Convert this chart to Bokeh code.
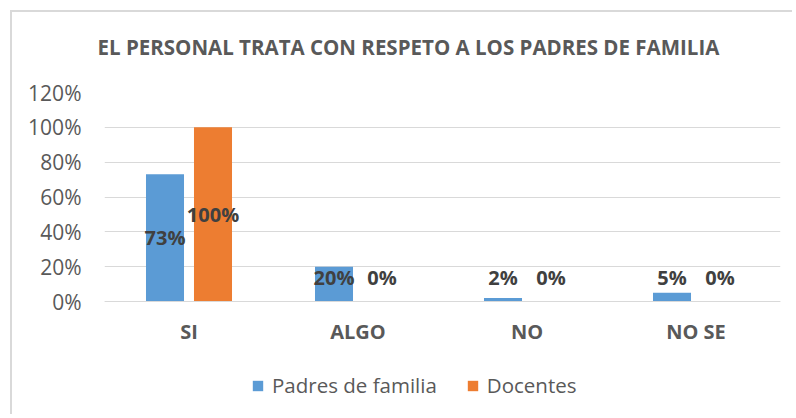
from bokeh.plotting import figure
from bokeh.models import (ColumnDataSource, FactorRange, Range1d, LabelSet, Legend,
                          LegendItem, NumeralTickFormatter, FixedTicker, Title)
from bokeh.core.properties import value
from bokeh.transform import dodge
from bokeh.embed import file_html
from bokeh.resources import INLINE

categories = ["SI", "ALGO", "NO", "NO SE"]
padres = [0.73, 0.20, 0.02, 0.05]
docentes = [1.00, 0.00, 0.00, 0.00]
padres_lbl = ["73%", "20%", "2%", "5%"]
docentes_lbl = ["100%", "0%", "0%", "0%"]
y_ticks = [0, 0.2, 0.4, 0.6, 0.8, 1.0, 1.2]

BLUE = "#5b9bd5"
ORANGE = "#ed7d31"
FONT = "Open Sans"
MIN_LBL = 0.138

src = ColumnDataSource(dict(
    cat=categories, padres=padres, docentes=docentes,
    plbl=padres_lbl, dlbl=docentes_lbl,
    py=[max(v / 2, MIN_LBL) for v in padres],
    dy=[max(v / 2, MIN_LBL) for v in docentes],
))

H, TOP = 404, 80
px_per_unit = 209 / 1.2            # pixels per unit of the value axis
y_start = -(H - TOP - 209) / px_per_unit  # frame extends below 0 to hold the legend

p = figure(width=782, height=H, x_range=FactorRange(*categories, range_padding=0),
           y_range=Range1d(y_start, 1.2), output_backend="svg", toolbar_location=None,
           min_border_left=92, min_border_right=14, min_border_top=TOP, min_border_bottom=0)
p.styles = {"border-left": "2px solid #d9d9d9", "border-top": "2px solid #d9d9d9",
            "margin-left": "10px", "margin-top": "10px"}

# spacer between the plot area and the title (nearest to the frame)
p.add_layout(Title(text=" ", text_font_size="1px", standoff=29), "above")

p.title.text = "EL PERSONAL TRATA CON RESPETO A LOS PADRES DE FAMILIA"
p.title.align = "left"
p.title.offset = -7
p.title.text_font = FONT
p.title.text_font_style = "bold"
p.title.text_font_size = "20.5px"
p.title.text_color = "#595959"
p.title.standoff = 0

W = 0.225
OFF = 0.142
rb = p.vbar(x=dodge("cat", -OFF, range=p.x_range), top="padres", width=W, source=src,
            fill_color=BLUE, line_color=None)
ro = p.vbar(x=dodge("cat", OFF, range=p.x_range), top="docentes", width=W, source=src,
            fill_color=ORANGE, line_color=None)

for col, ycol, off in (("plbl", "py", -OFF), ("dlbl", "dy", OFF)):
    p.add_layout(LabelSet(x=dodge("cat", off, range=p.x_range), y=ycol, text=col, source=src,
                          text_align="center", text_baseline="middle", text_font=value(FONT),
                          text_font_style="bold", text_font_size="20px", text_color="#404040"))

p.outline_line_color = None
p.xgrid.grid_line_color = None
p.ygrid.grid_line_color = "#d9d9d9"
p.ygrid.grid_line_width = 1
p.yaxis.ticker = FixedTicker(ticks=y_ticks)
p.yaxis.formatter = NumeralTickFormatter(format="0%")
p.yaxis.axis_line_color = None
p.yaxis.major_tick_line_color = None
p.yaxis.minor_tick_line_color = None
p.yaxis.major_label_text_font = FONT
p.yaxis.major_label_text_font_size = "21px"
p.yaxis.major_label_text_color = "#595959"
p.yaxis.major_label_standoff = 17

p.xaxis.fixed_location = 0
p.xaxis.axis_line_color = "#d9d9d9"
p.xaxis.axis_line_width = 1
p.xaxis.major_tick_line_color = None
p.xaxis.minor_tick_line_color = None
p.xaxis.major_label_text_font = FONT
p.xaxis.major_label_text_font_style = "bold"
p.xaxis.major_label_text_font_size = "20px"
p.xaxis.major_label_text_color = "#595959"
p.xaxis.major_label_standoff = 10

legend = Legend(items=[LegendItem(label="Padres de familia", renderers=[rb]),
                       LegendItem(label="Docentes", renderers=[ro])],
                location=(147, 17), orientation="horizontal", padding=0, margin=0,
                spacing=29, label_standoff=8, glyph_width=13, glyph_height=13,
                label_text_font=FONT, label_text_font_size="20.5px", label_text_color="#595959",
                border_line_color=None, background_fill_alpha=0)
p.add_layout(legend, "center")

open("out.html", "w").write(file_html(p, INLINE))
